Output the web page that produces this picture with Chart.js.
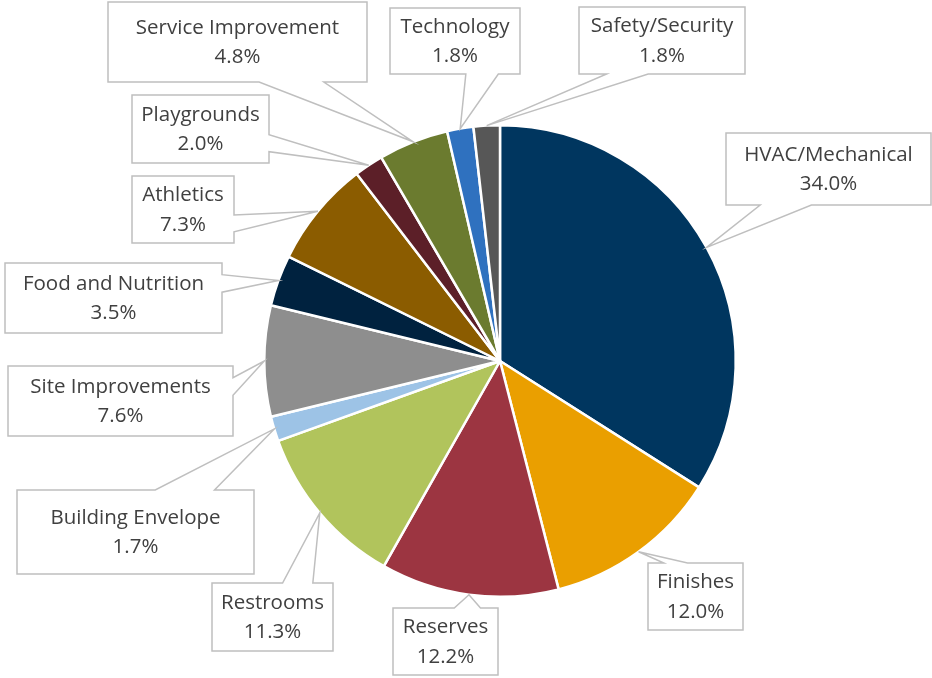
<!DOCTYPE html>
<html>
<head>
<meta charset="utf-8">
<script src="https://cdn.jsdelivr.net/npm/chart.js@4"></script>
<style>
  html, body { margin: 0; padding: 0; background: #fff; }
  #wrap { width: 932px; height: 678px; }
</style>
</head>
<body>
<div id="wrap"><canvas id="pie-plot"></canvas></div>
<script>
var categories = [
    'HVAC/Mechanical',
    'Finishes',
    'Reserves',
    'Restrooms',
    'Building Envelope',
    'Site Improvements',
    'Food and Nutrition',
    'Athletics',
    'Playgrounds',
    'Service Improvement',
    'Technology',
    'Safety/Security',
]

var shares = [34.0, 12.0, 12.2, 11.3, 1.7, 7.6, 3.5, 7.3, 2.0, 4.8, 1.8, 1.8]

var sliceColors = [
    '#00365F',
    '#EA9F00',
    '#9C3541',
    '#B1C45C',
    '#9DC3E6',
    '#8E8E8E',
    '#00223F',
    '#8B5C00',
    '#5C1F28',
    '#6B7B2F',
    '#2F71BF',
    '#575757',
]

// callout boxes [left, top, width, height], same order as categories
var calloutBoxes = [
    [726, 133, 205, 72],
    [648, 563, 95, 67],
    [393, 608, 105, 67],
    [212, 583, 121, 68],
    [17, 490, 237, 84],
    [8, 366, 225, 70],
    [5, 263, 217, 70],
    [132, 176, 102, 67],
    [132, 95, 137, 68],
    [108, 2, 259, 80],
    [390, 8, 130, 66],
    [579, 7, 166, 67],
]

var calloutPlugin = {
    id: 'callouts',
    afterDatasetsDraw: function(chart) {
        var ctx = chart.ctx
        var arcs = chart.getDatasetMeta(0).data
        ctx.save()
        arcs.forEach(function(arc, i) {
            var p = arc.getProps(['x', 'y', 'startAngle', 'endAngle', 'outerRadius'], true)
            var mid = (p.startAngle + p.endAngle) / 2
            var tx = p.x + Math.cos(mid) * p.outerRadius
            var ty = p.y + Math.sin(mid) * p.outerRadius
            var b = calloutBoxes[i]
            var x = b[0], y = b[1], w = b[2], h = b[3]
            var dx = tx - (x + w / 2), dy = ty - (y + h / 2)
            var side = Math.abs(dx) * h > Math.abs(dy) * w
            var lo, hi
            if (side) {
                lo = dy > 0 ? 7 / 12 : 2 / 12
                hi = dy > 0 ? 10 / 12 : 5 / 12
            } else {
                lo = dx > 0 ? 7 / 12 : 2 / 12
                hi = dx > 0 ? 10 / 12 : 5 / 12
            }
            ctx.beginPath()
            ctx.moveTo(x, y)
            if (!side && dy < 0) {
                ctx.lineTo(x + w * lo, y); ctx.lineTo(tx, ty); ctx.lineTo(x + w * hi, y)
            }
            ctx.lineTo(x + w, y)
            if (side && dx > 0) {
                ctx.lineTo(x + w, y + h * lo); ctx.lineTo(tx, ty); ctx.lineTo(x + w, y + h * hi)
            }
            ctx.lineTo(x + w, y + h)
            if (!side && dy > 0) {
                ctx.lineTo(x + w * hi, y + h); ctx.lineTo(tx, ty); ctx.lineTo(x + w * lo, y + h)
            }
            ctx.lineTo(x, y + h)
            if (side && dx < 0) {
                ctx.lineTo(x, y + h * hi); ctx.lineTo(tx, ty); ctx.lineTo(x, y + h * lo)
            }
            ctx.closePath()
            ctx.fillStyle = '#ffffff'
            ctx.fill()
            ctx.lineWidth = 1.5
            ctx.strokeStyle = '#BFBFBF'
            ctx.stroke()

            ctx.fillStyle = '#404040'
            ctx.font = '20.5px "Open Sans"'
            ctx.textAlign = 'center'
            ctx.textBaseline = 'middle'
            var cx = x + w / 2, cy = y + h / 2
            ctx.fillText(categories[i], cx, cy - 14)
            ctx.fillText(shares[i].toFixed(1) + '%', cx, cy + 15.5)
        })
        ctx.restore()
    }
}

var layout = {
    type: 'pie',
    data: {
        labels: categories,
        datasets: [{
            data: shares,
            backgroundColor: sliceColors,
            borderColor: '#ffffff',
            borderWidth: 2.5,
        }]
    },
    options: {
        responsive: true,
        maintainAspectRatio: false,
        animation: false,
        layout: {
            padding: { left: 263, right: 195, top: 124, bottom: 80 }
        },
        plugins: {
            legend: { display: false },
            tooltip: { enabled: false },
        }
    },
    plugins: [calloutPlugin]
}

const piePlot = document.getElementById('pie-plot')
new Chart(piePlot, layout)
</script>
</body>
</html>
